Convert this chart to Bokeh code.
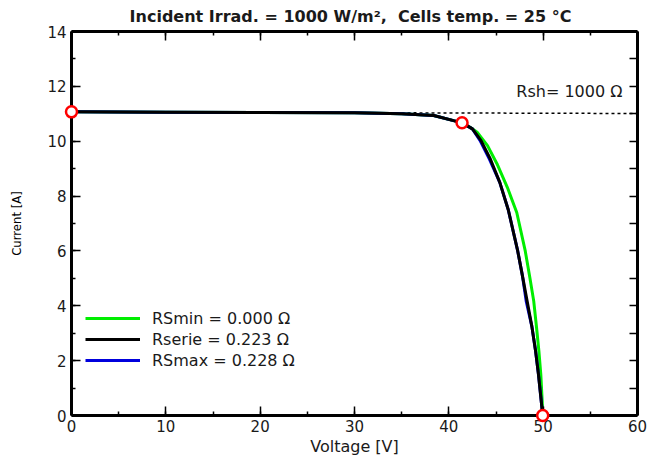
from bokeh.plotting import figure
from bokeh.models import (LinearAxis, Range1d, Label, Legend, LegendItem,
                          SingleIntervalTicker, CustomJSTickFormatter)
from bokeh.core.properties import value
from bokeh.embed import file_html
from bokeh.resources import INLINE

# ---- data ----
title_text = "Incident Irrad. = 1000 W/m\u00b2,\u00a0 Cells temp. = 25 \u00b0C"

v_rsmin = [0, 10, 20, 30, 35, 38.4, 40.5, 41.4, 42.3, 43.0, 44.1, 45.1, 46.2, 47.2, 48.1, 48.6, 49.0, 49.3, 49.55, 49.75, 49.9, 49.95]
i_rsmin = [11.07, 11.06, 11.05, 11.04, 11.0, 10.94, 10.75, 10.67, 10.5, 10.33, 9.84, 9.18, 8.32, 7.4, 6.0, 5.0, 4.17, 3.2, 2.34, 1.5, 0.5, 0]

v_rserie = [0, 10, 20, 30, 35, 38.4, 40.5, 41.4, 42.5, 43.4, 44.4, 45.4, 46.3, 47.3, 47.8, 48.3, 48.8, 49.2, 49.5, 49.8, 49.95]
i_rserie = [11.07, 11.06, 11.05, 11.04, 11.0, 10.94, 10.75, 10.67, 10.45, 10.03, 9.35, 8.5, 7.5, 6.0, 5.1, 4.17, 3.25, 2.34, 1.5, 0.51, 0]

v_rsmax = [0, 10, 20, 30, 35, 38.4, 40.5, 41.4, 42.5, 43.3, 44.3, 45.4, 46.3, 47.3, 47.8, 48.2, 48.8, 49.2, 49.5, 49.8, 49.95]
i_rsmax = [11.07, 11.06, 11.05, 11.04, 11.0, 10.94, 10.75, 10.67, 10.45, 10.03, 9.35, 8.5, 7.5, 6.0, 5.1, 4.17, 3.25, 2.34, 1.5, 0.51, 0]

v_rsh = [0, 60]
i_rsh = [11.07, 11.01]

v_points = [0, 41.4, 49.95]      # Isc, MPP, Voc
i_points = [11.07, 10.67, 0]

labels = ["RSmin = 0.000 \u03a9", "Rserie = 0.223 \u03a9", "RSmax = 0.228 \u03a9"]
rsh_text = "Rsh= 1000 \u03a9"

FONT = "DejaVu Sans"

p = figure(width=649, height=460, output_backend="svg", toolbar_location=None,
           x_range=Range1d(0, 60), y_range=Range1d(0, 14),
           x_axis_location=None, y_axis_location=None,
           min_border_left=71, min_border_right=12, min_border_top=31, min_border_bottom=45)
p.grid.visible = False
p.outline_line_color = None
p.background_fill_color = "white"
p.border_fill_color = "white"

blank = CustomJSTickFormatter(code="return ''")


def style_axis(ax, labels_visible=True, maj=9, mnr=4):
    ax.axis_line_width = 3
    ax.axis_line_color = "black"
    ax.major_tick_in = maj
    ax.major_tick_out = 0
    ax.minor_tick_in = mnr
    ax.minor_tick_out = 0
    ax.major_tick_line_width = 1.5
    ax.minor_tick_line_width = 1.5
    ax.major_tick_line_color = "black"
    ax.minor_tick_line_color = "black"
    ax.major_label_text_font = FONT
    ax.major_label_text_font_size = "15px"
    ax.major_label_text_color = "#1a1a1a"
    if not labels_visible:
        ax.formatter = blank
        ax.major_label_standoff = 0


bottom = LinearAxis(ticker=SingleIntervalTicker(interval=10, num_minor_ticks=2))
style_axis(bottom)
bottom.major_label_standoff = 4
bottom.axis_label = "Voltage [V]"
bottom.axis_label_text_font = FONT
bottom.axis_label_text_font_size = "16px"
bottom.axis_label_text_font_style = "normal"
bottom.axis_label_text_color = "#1a1a1a"
bottom.axis_label_standoff = 2
p.add_layout(bottom, "below")

left = LinearAxis(ticker=SingleIntervalTicker(interval=2, num_minor_ticks=2))
style_axis(left)
left.major_label_standoff = 5
left.axis_label = "Current [A]"
left.axis_label_text_font = "DejaVu Sans Condensed"
left.axis_label_text_font_size = "13px"
left.axis_label_text_font_style = "normal"
left.axis_label_text_color = "black"
left.axis_label_standoff = 20
p.add_layout(left, "left")

top = LinearAxis(ticker=SingleIntervalTicker(interval=10, num_minor_ticks=2))
style_axis(top, labels_visible=False)
p.add_layout(top, "above")

right = LinearAxis(ticker=SingleIntervalTicker(interval=1, num_minor_ticks=0))
style_axis(right, labels_visible=False, maj=8, mnr=0)
p.add_layout(right, "right")

# Rsh dotted line
p.line(v_rsh, i_rsh, line_color="black", line_width=1.5, line_dash="3 3")

r_min = p.line(v_rsmin, i_rsmin, line_color="#00ee00", line_width=3)
r_max = p.line(v_rsmax, i_rsmax, line_color="#0000dd", line_width=3)
r_ser = p.line(v_rserie, i_rserie, line_color="black", line_width=3)

p.scatter(v_points, i_points, marker="circle", size=11, line_color="#ff0000",
          line_width=2.5, fill_color="white", level="overlay")

legend = Legend(items=[LegendItem(label=labels[0], renderers=[r_min]),
                       LegendItem(label=labels[1], renderers=[r_ser]),
                       LegendItem(label=labels[2], renderers=[r_max])],
                location=(14, 45), orientation="vertical",
                glyph_width=55, glyph_height=20, label_height=20, spacing=1,
                label_standoff=12, padding=0, margin=0,
                border_line_color=None, background_fill_alpha=0,
                label_text_font=FONT, label_text_font_size="16px",
                label_text_color="#1a1a1a")
p.add_layout(legend, "center")

p.add_layout(Label(x=58.4, y=11.8, text=rsh_text, text_align="right",
                   text_baseline="middle", text_font=FONT, text_font_size="16px",
                   text_color="#1a1a1a"))

p.text(x=[30], y=[14], text=[title_text], y_offset=-15, x_offset=-4,
       text_align="center", text_baseline="middle", text_font=value(FONT),
       text_font_size="16px", text_font_style="bold", text_color="#1a1a1a",
       level="overlay")

open("out.html", "w").write(file_html(p, INLINE))
